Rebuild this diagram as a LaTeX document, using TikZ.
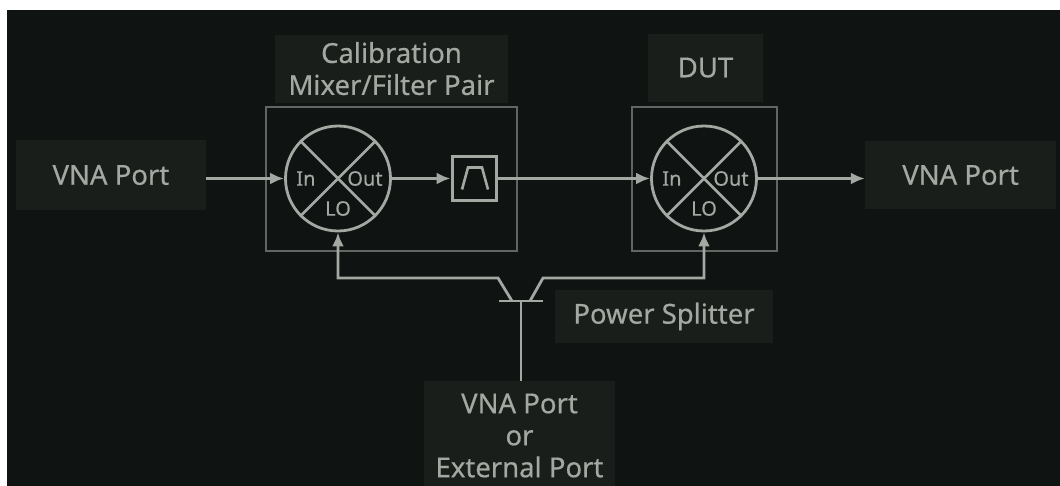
\documentclass[tikz,border=0pt]{standalone}
\usepackage{fontspec}
\setmainfont[FakeBold=0.5]{Noto Sans}
\usetikzlibrary{positioning, arrows.meta}
\definecolor{panel}{HTML}{0F1311}
\definecolor{boxfill}{HTML}{1A1E1B}
\definecolor{wire}{HTML}{A4A8A3}
\definecolor{frameline}{HTML}{626662}
\begin{document}
\begin{tikzpicture}[x=1pt, y=1pt,
      block/.style={fill=boxfill, text=wire, inner sep=0pt, align=center,
        font=\fontsize{27.5}{32}\selectfont},
      frame/.style={draw=frameline, line width=1.4pt, inner sep=0pt},
      mixer/.style={circle, draw=wire, line width=2.8pt, minimum size=105pt, inner sep=0pt},
      tag/.style={text=wire, inner sep=0pt, font=\fontsize{20}{22}\selectfont},
      wireline/.style={draw=wire, line width=2.8pt},
      >={Latex[length=14pt, width=12pt]}, node distance=8pt]
    \useasboundingbox (0,0) rectangle (1060,-486);
    \fill[white] (0,0) rectangle (1060,-486);
    \fill[panel] (7,-10) rectangle (1060,-486);
    % boxes round the mixers
    \node[frame, minimum width=251pt, minimum height=144pt] (calbox) at (391.5,-179) {};
    \node[frame, minimum width=145pt, minimum height=144pt] (dutbox) at (704.5,-179) {};
    \node[block, minimum width=233pt, minimum height=68pt, above=3.5pt of calbox] (caltitle) {Calibration\\Mixer/Filter Pair};
    \node[block, minimum width=115pt, minimum height=68pt, above=4.5pt of dutbox, xshift=1pt] (duttitle) {DUT};
    % signal path
    \node[mixer] (mixa) at (338,-178.5) {};
    \node[mixer] (mixb) at (704,-178.5) {};
    \node[block, minimum width=190pt, minimum height=70pt, left=78pt of mixa, yshift=3.5pt] (vnain) {VNA Port};
    \node[block, minimum width=191pt, minimum height=68pt, right=107pt of mixb, yshift=3.5pt] (vnaout) {VNA Port};
    \node[draw=wire, line width=3pt, minimum size=44pt, inner sep=0pt] (filt) at (474,-178.5) {};
    \draw[wire, line width=2.6pt] ([shift={(-12,-11)}]filt.center) -- ([shift={(-6,11)}]filt.center)
      -- ([shift={(8,11)}]filt.center) -- ([shift={(14,-11)}]filt.center);
    \foreach \mx in {mixa, mixb} {
      \draw[wireline] (\mx.45) -- (\mx.225);
      \draw[wireline] (\mx.135) -- (\mx.315);
      \node[tag, left=32pt of \mx.center, anchor=center] (\mx in) {In};
      \node[tag, right=27pt of \mx.center, anchor=center] (\mx out) {Out};
      \node[tag, below=30pt of \mx.center, anchor=center] (\mx lo) {LO};
    }
    \draw[wireline, ->] (vnain.east |- mixa) -- (mixa);
    \draw[wireline, ->] (mixa) -- (filt);
    \draw[wireline, ->] (filt) -- (mixb);
    \draw[wireline, ->] (mixb) -- (mixb -| vnaout.west);
    % splitter
    \node[block, minimum width=191pt, minimum height=109pt] (ext) at (519.5,-435.5) {VNA Port\\or\\External Port};
    \node[block, minimum width=218pt, minimum height=53pt] (splitname) at (664,-316.5) {Power Splitter};
    \coordinate (split) at (521,-301);
    \coordinate (splita) at (512,-301);
    \coordinate (splitb) at (530,-301);
    \coordinate (kneea) at (498,-278);
    \coordinate (kneeb) at (543,-278);
    \draw[wireline] (ext.north -| split) -- (split);
    \draw[wireline] ([xshift=-22pt]split) -- ([xshift=22pt]split);
    \draw[wireline, ->] (splita) -- (kneea) -| (mixa.south);
    \draw[wireline, ->] (splitb) -- (kneeb) -| (mixb.south);
  \end{tikzpicture}
\end{document}
